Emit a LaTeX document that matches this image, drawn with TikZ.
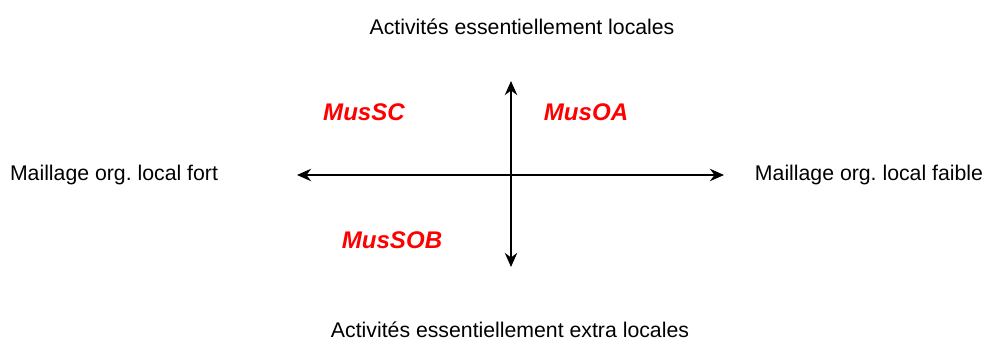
\documentclass[tikz,border=0pt]{standalone}
\usepackage{fontspec}
\setmainfont{Liberation Sans}
\usetikzlibrary{arrows.meta}
\frenchspacing
\tikzset{
	axe/.style={line width=1.5pt, {Stealth[length=8pt,width=7pt]}-{Stealth[length=8pt,width=7pt]}},
	pole/.style={font=\fontsize{12.1}{14}\selectfont},
	mus/.style={text=red, font=\fontsize{13.7}{16}\selectfont\bfseries\itshape}
}
\begin{document}
\begin{tikzpicture}[x=0.02cm, y=-0.02cm]
\useasboundingbox (0,0) rectangle (990,340);
\node[pole] (haut) at (522,27) {Activités essentiellement locales};
\node[pole] (bas) at (510,330) {Activités essentiellement extra locales};
\node[pole] (gauche) at (114,175) {Maillage org. local fort};
\node[pole] (droite) at (869,175) {Maillage org. local faible};
\coordinate (o) at (297,175);
\coordinate (e) at (724,175);
\coordinate (n) at (511,81);
\coordinate (s) at (511,267);
\draw[axe] (o) -- (e);
\draw[axe] (s) -- (n);
\node[mus] (mussc) at (364,112) {MusSC};
\node[mus] (musoa) at (586,112) {MusOA};
\node[mus] (mussob) at (392,240) {MusSOB};
\end{tikzpicture}
\end{document}
